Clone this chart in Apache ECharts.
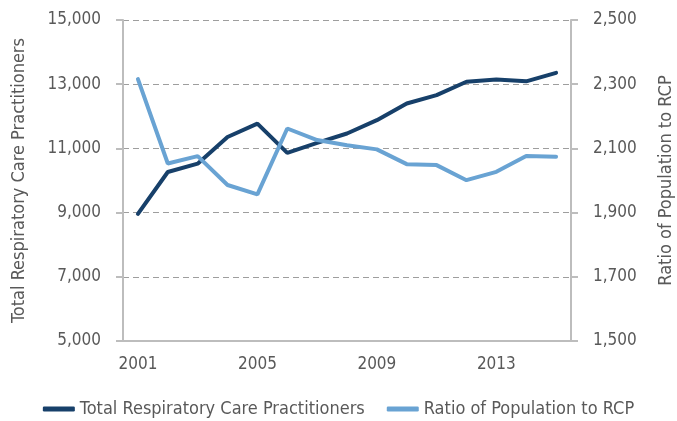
<!DOCTYPE html>
<html>
<head>
    <meta charset="UTF-8">
    <title></title>
    <style>
        html, body { margin: 0; padding: 0; background: #fff; }
        #container { width: 677px; height: 421px; }
    </style>
</head>
<body>
    <div id="container"></div>
    <script src="https://cdn.jsdelivr.net/npm/echarts@6/dist/echarts.min.js"></script>
    <script>
        var years = ['2001', '2002', '2003', '2004', '2005', '2006', '2007', '2008',
            '2009', '2010', '2011', '2012', '2013', '2014', '2015'];
        var totalRcp = [8960, 10265, 10525, 11355, 11770, 10860, 11170, 11465,
            11880, 12400, 12660, 13075, 13150, 13090, 13355];
        var ratioPop = [2316, 2053, 2076, 1986, 1957, 2162, 2126, 2110,
            2097, 2051, 2048, 2001, 2027, 2076, 2074];

        var font = '"DejaVu Sans Condensed", "DejaVu Sans", sans-serif';
        var grey = '#595959';
        var dark = '#17406a';
        var light = '#69a3d3';

        function thousands(v) {
            return v.toLocaleString('en-US');
        }

        var myChart = echarts.init(document.getElementById('container'));
        myChart.setOption({
            animation: false,
            textStyle: { fontFamily: font },
            grid: { left: 123, right: 106, top: 20, bottom: 80, outerBoundsMode: 'none' },
            legend: {
                bottom: -2,
                left: 'center',
                itemGap: 22,
                itemWidth: 32,
                itemHeight: 5,
                icon: 'roundRect',
                textStyle: { fontFamily: font, fontSize: 18, color: grey },
                data: ['Total Respiratory Care Practitioners', 'Ratio of Population to RCP']
            },
            xAxis: {
                type: 'category',
                data: years,
                boundaryGap: true,
                axisLine: { lineStyle: { color: '#bdbdbd', width: 2 } },
                axisTick: { interval: 3, length: 7, lineStyle: { color: '#bdbdbd', width: 2 } },
                axisLabel: { interval: 3, margin: 15, fontSize: 17, color: grey, fontFamily: font }
            },
            yAxis: [
                {
                    type: 'value',
                    min: 5000,
                    max: 15000,
                    interval: 2000,
                    name: 'Total Respiratory Care Practitioners',
                    nameLocation: 'middle',
                    nameGap: 95,
                    nameTextStyle: { fontSize: 18, color: grey, fontFamily: font },
                    axisLine: { show: true, lineStyle: { color: '#bdbdbd', width: 2 } },
                    axisTick: { show: true, length: 7, lineStyle: { color: '#bdbdbd', width: 2 } },
                    axisLabel: { margin: 22, fontSize: 17, color: grey, fontFamily: font, formatter: thousands },
                    splitLine: { lineStyle: { color: '#9e9e9e', type: [6, 4], width: 1 } }
                },
                {
                    type: 'value',
                    min: 1500,
                    max: 2500,
                    interval: 200,
                    position: 'right',
                    name: 'Ratio of Population to RCP',
                    nameLocation: 'middle',
                    nameGap: 86,
                    nameTextStyle: { fontSize: 18, color: grey, fontFamily: font },
                    axisLine: { show: true, lineStyle: { color: '#bdbdbd', width: 2 } },
                    axisTick: { show: true, length: 7, lineStyle: { color: '#bdbdbd', width: 2 } },
                    axisLabel: { margin: 22, fontSize: 17, color: grey, fontFamily: font, formatter: thousands },
                    splitLine: { show: false }
                }
            ],
            series: [
                {
                    name: 'Total Respiratory Care Practitioners',
                    type: 'line',
                    yAxisIndex: 0,
                    data: totalRcp,
                    showSymbol: false,
                    symbol: 'none',
                    itemStyle: { color: dark },
                    lineStyle: { color: dark, width: 4, cap: 'round' }
                },
                {
                    name: 'Ratio of Population to RCP',
                    type: 'line',
                    yAxisIndex: 1,
                    data: ratioPop,
                    showSymbol: false,
                    symbol: 'none',
                    itemStyle: { color: light },
                    lineStyle: { color: light, width: 4, cap: 'round' }
                }
            ]
        });
    </script>
</body>
</html>
